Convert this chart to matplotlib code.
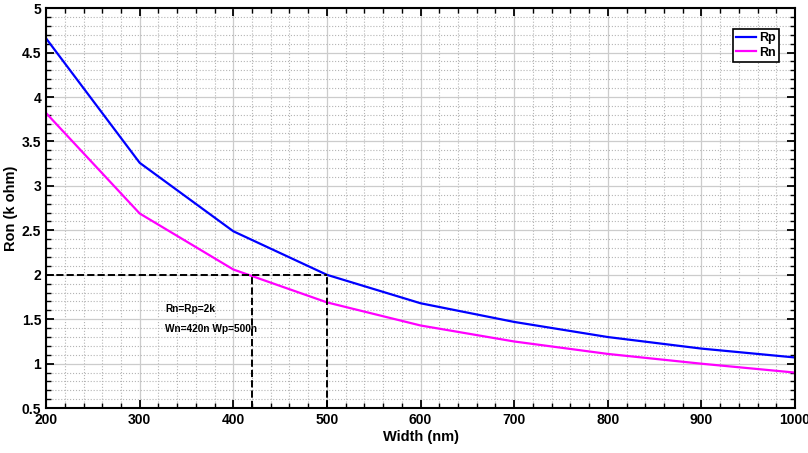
import numpy as np
import matplotlib.pyplot as plt
from matplotlib.ticker import MultipleLocator

plt.rcParams['font.family'] = ['Liberation Sans', 'DejaVu Sans']
plt.rcParams['font.weight'] = 'bold'

width = [200, 300, 400, 500, 600, 700, 800, 900, 1000]
rp = [4.66, 3.26, 2.49, 2.00, 1.68, 1.47, 1.30, 1.17, 1.07]
rn = [3.82, 2.69, 2.06, 1.69, 1.43, 1.25, 1.11, 1.00, 0.90]

wn_pick = 420
wp_pick = 500
r_pick = 2.0

fig = plt.figure(figsize=(8.08, 4.53), dpi=100)
ax = fig.add_axes([0.057, 0.099, 0.927, 0.883])

ax.plot(width, rp, color='#0000ff', lw=1.6, label='Rp')
ax.plot(width, rn, color='#ff00ff', lw=1.6, label='Rn')

# dashed guide lines
ax.plot([200, wp_pick], [r_pick, r_pick], 'k--', lw=1.4)
ax.plot([wn_pick, wn_pick], [0.5, r_pick], 'k--', lw=1.4)
ax.plot([wp_pick, wp_pick], [0.5, r_pick], 'k--', lw=1.4)

ax.text(327, 1.62, 'Rn=Rp=2k', fontsize=7.3, fontweight='bold', va='center')
ax.text(327, 1.39, 'Wn=420n Wp=500n', fontsize=7.3, fontweight='bold', va='center')

ax.set_xlim(200, 1000)
ax.set_ylim(0.5, 5)
ax.xaxis.set_major_locator(MultipleLocator(100))
ax.xaxis.set_minor_locator(MultipleLocator(20))
ax.yaxis.set_minor_locator(MultipleLocator(0.1))
ax.set_yticks(np.arange(0.5, 5.01, 0.5))
ax.set_yticklabels(['0.5', '1', '1.5', '2', '2.5', '3', '3.5', '4', '4.5', '5'])

ax.grid(which='major', color='#cccccc', lw=0.9)
ax.grid(which='minor', color='#b4b4b4', lw=0.8, ls=':')
ax.set_axisbelow(True)

ax.tick_params(which='both', direction='in', top=True, right=True, labelsize=10)
ax.tick_params(which='major', length=6, width=1.3)
ax.tick_params(which='minor', length=3.5, width=1.0)
for s in ax.spines.values():
    s.set_linewidth(1.5)

ax.set_xlabel('Width (nm)', fontsize=10.5, fontweight='bold', labelpad=2)
ax.set_ylabel('Ron (k ohm)', fontsize=10.5, fontweight='bold', labelpad=3)

leg = ax.legend(loc='upper right', bbox_to_anchor=(0.978, 0.948), fontsize=9,
                handlelength=1.6, handletextpad=0.2, borderpad=0.25,
                labelspacing=0.2, borderaxespad=0, fancybox=False, framealpha=1)
leg.get_frame().set_edgecolor('black')
leg.get_frame().set_linewidth(1.2)

fig.savefig('out.png', dpi=100)
